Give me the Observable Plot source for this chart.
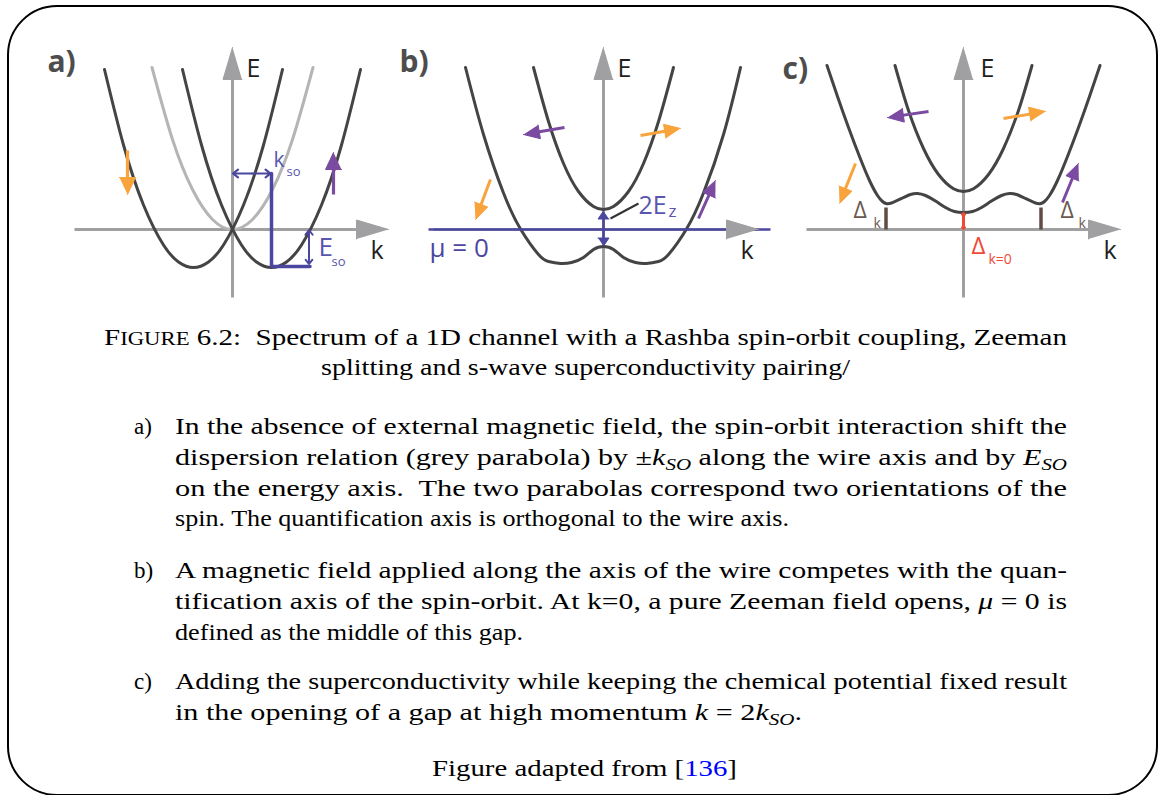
<!DOCTYPE html>
<html><head><meta charset="utf-8">
<script src="https://cdn.jsdelivr.net/npm/d3@7"></script>
<script src="https://cdn.jsdelivr.net/npm/@observablehq/plot@0.6"></script>
<style>
html,body{margin:0;padding:0;background:#fff;}
#page{position:relative;width:1158px;height:795px;overflow:hidden;background:#fff;}
#frame{position:absolute;left:7px;top:5px;width:1151px;height:791px;box-sizing:border-box;border:2.5px solid #000;border-radius:50px;}
#caption{position:absolute;left:0;top:0;}
.panel{position:absolute;width:360px;height:275px;}
</style></head><body>
<div id="page">
<div id="frame"></div>
<svg id="caption" width="1158" height="795"></svg>
<div id="pa" class="panel"></div>
<div id="pb" class="panel"></div>
<div id="pc" class="panel"></div>
</div>
<script>
// ---------- DATA (k and E in schematic units) ----------
// panel a) spin-orbit only
const greyA_k  = [-8.05, -6, -4, -2, 0, 2, 4, 6, 8.05];
const greyA_E  = [16.2, 9, 4, 1, 0, 1, 4, 9, 16.2];
const leftA_k  = [-12.8, -10.9, -8.9, -6.9, -5.4, -3.9, -2.4, -0.9, 1.1, 3.1, 5.0];
const leftA_E  = [16.0, 8.45, 2.45, -1.55, -3.24, -3.8, -3.24, -1.55, 2.45, 8.45, 16.0];
const rightA_k = [-5.0, -3.1, -1.1, 0.9, 2.4, 3.9, 5.4, 6.9, 8.9, 10.9, 12.8];
const rightA_E = [16.0, 8.45, 2.45, -1.55, -3.24, -3.8, -3.24, -1.55, 2.45, 8.45, 16.0];
const kso = 3.9, Eso = 3.7, ksoLevel = 5.6, EsoMark = 7.65;

// panel b) spin-orbit + Zeeman
const upB_k  = [-7.0, -5.5, -4, -2.5, -1, 0, 1, 2.5, 4, 5.5, 7.0];
const upB_E  = [16.2, 10.8, 6.6, 3.8, 2.3, 2.0, 2.3, 3.8, 6.6, 10.8, 16.2];
const lowB_k = [-13.8, -12, -10, -8.3, -6.5, -5.5, -4.3, -3.2, -2, -1, 0, 1, 2, 3.2, 4.3, 5.5, 6.5, 8.3, 10, 12, 13.7];
const lowB_E = [16.2, 9.5, 3.65, 0.05, -2.5, -3.2, -3.4, -3.3, -2.8, -2.0, -1.7, -2.0, -2.8, -3.3, -3.4, -3.2, -2.5, 0.05, 3.65, 9.5, 16.2];
const EzTop = 1.85, EzBottom = -1.65;

// panel c) + superconductivity
const upC_k  = [-6.85, -5.5, -4, -2.5, -1, 0, 1, 2.5, 4, 5.5, 6.85];
const upC_E  = [16.4, 11.9, 8.1, 5.5, 4.07, 3.8, 4.07, 5.5, 8.1, 11.9, 16.4];
const lowC_k = [-13.65, -12.6, -11.5, -10.4, -9.4, -8.6, -8.1, -7.75, -7.2, -6.2, -5.3, -4.6, -3.8, -2.8, -1.8, -0.9, 0,
                0.9, 1.8, 2.8, 3.8, 4.6, 5.3, 6.2, 7.2, 7.75, 8.1, 8.6, 9.4, 10.4, 11.5, 12.6, 13.65];
const lowC_E = [16.4, 13.3, 10.2, 7.3, 4.9, 3.4, 2.8, 2.6, 2.65, 3.1, 3.5, 3.6, 3.4, 2.85, 2.2, 1.8, 1.7,
                1.8, 2.2, 2.85, 3.4, 3.6, 3.5, 3.1, 2.65, 2.6, 2.8, 3.4, 4.9, 7.3, 10.2, 13.3, 16.4];
const deltaK = [-7.75, 7.75], deltaKTop = 2.2, delta0 = 1.7;

// spin arrows [k0, E0, k1, E1] (tail -> tip)
const spinA_orange = [[-10.5, 7.9, -10.5, 3.5]];
const spinA_purple = [[10.1, 3.5, 10.1, 7.7]];
const spinB_orange = [[3.7, 9.4, 7.7, 10.1], [-11.3, 5.0, -12.8, 1.0]];
const spinB_purple = [[-3.9, 10.2, -8.0, 9.5], [9.5, 1.1, 11.2, 4.9]];
const spinC_orange = [[4.0, 11.1, 8.2, 11.8], [-10.8, 6.6, -12.4, 2.6]];
const spinC_purple = [[-3.5, 11.8, -7.6, 11.2], [9.9, 2.7, 11.5, 6.6]];

// axes [k0, E0, k1, E1]
const axesA = [[-15.8, 0, 15.6, 0], [0, -6.8, 0, 18.2]];
const axesB = [[-17.0, 0, 15.5, 0], [0, -6.8, 0, 18.2]];
const axesC = [[-15.7, 0, 15.7, 0], [0, -6.8, 0, 18.2]];
const mu0 = [-17.5, 16.7];

// ---------- STYLE ----------
const SANS = "'Open Sans', 'Noto Sans', sans-serif";
const ORANGE = "#f8a33b", PURPLE = "#7b4aa1", DARK = "#444444", GREY = "#b5b5b5",
      AXIS = "#a0a0a2", BLUE = "#4b479f", LBLUE = "#5a56ad", RED = "#ef4a36", BROWN = "#5f4c44", BROWNT = "#6b5a51";

function tri(x1, y1, x2, y2, len, hw, id) {
  const dx = x2 - x1, dy = y2 - y1, L = Math.hypot(dx, dy), ux = dx / L, uy = dy / L;
  const bx = x2 - ux * len, by = y2 - uy * len;
  return [{x: x2, y: y2, id}, {x: bx - uy * hw, y: by + ux * hw, id}, {x: bx + uy * hw, y: by - ux * hw, id}];
}
function arrowSet(list, color, len, hw, sw) {
  const shafts = [], heads = [];
  list.forEach((a, i) => {
    const [x1, y1, x2, y2] = a;
    const L = Math.hypot(x2 - x1, y2 - y1), ux = (x2 - x1) / L, uy = (y2 - y1) / L;
    shafts.push({x1, y1, x2: x2 - ux * (len - 0.3), y2: y2 - uy * (len - 0.3)});
    heads.push(...tri(x1, y1, x2, y2, len, hw, i));
  });
  return [
    Plot.link(shafts, {x1: "x1", y1: "y1", x2: "x2", y2: "y2", stroke: color, strokeWidth: sw}),
    Plot.line(heads, {x: "x", y: "y", z: "id", fill: color, stroke: color, strokeWidth: 1, strokeLinejoin: "round"})
  ];
}
function curve(ks, Es, color) {
  return Plot.line(ks.map((k, i) => ({k, E: Es[i]})), {x: "k", y: "E", curve: "natural", stroke: color, strokeWidth: 3});
}
function txt(t, k, E, size, color, extra = {}) {
  return Plot.text([t], {x: [k], y: [E], text: [t], textAnchor: "start", lineAnchor: "bottom",
    fontFamily: SANS, fontSize: size, fill: color, ...extra});
}
function panel(id, ox, marks) {
  const chart = Plot.plot({
    width: 360, height: 275, margin: 0,
    x: {domain: [-18, 18], axis: null},
    y: {domain: [-8, 19.5], axis: null},
    style: {background: "transparent", overflow: "visible"},
    marks
  });
  const el = document.getElementById(id);
  el.style.left = (ox - 180) + "px";
  el.style.top = (229 - 195) + "px";
  el.append(chart);
}

// ---------- PANEL a ----------
panel("pa", 232, [
  ...arrowSet(axesA, AXIS, 3.2, 0.95, 3),
  curve(greyA_k, greyA_E, GREY),
  curve(leftA_k, leftA_E, DARK),
  curve(rightA_k, rightA_E, DARK),
  Plot.line([{k: kso, E: ksoLevel}, {k: kso, E: -Eso}, {k: EsoMark + 0.1, E: -Eso}],
    {x: "k", y: "E", stroke: BLUE, strokeWidth: 3.5, strokeLinejoin: "miter"}),
  Plot.arrow([{x1: kso / 2, y1: ksoLevel, x2: 0.05, y2: ksoLevel}, {x1: kso / 2, y1: ksoLevel, x2: kso - 0.1, y2: ksoLevel}],
    {x1: "x1", y1: "y1", x2: "x2", y2: "y2", stroke: BLUE, strokeWidth: 2.2, headLength: 7, headAngle: 75}),
  Plot.arrow([{x1: EsoMark, y1: -Eso / 2, x2: EsoMark, y2: -0.05}, {x1: EsoMark, y1: -Eso / 2, x2: EsoMark, y2: -Eso + 0.25}],
    {x1: "x1", y1: "y1", x2: "x2", y2: "y2", stroke: BLUE, strokeWidth: 2, headLength: 6, headAngle: 75}),
  ...arrowSet(spinA_orange, ORANGE, 1.7, 0.8, 3.2),
  ...arrowSet(spinA_purple, PURPLE, 1.7, 0.8, 3.2),
  txt("a)", -18.5, 15.8, 30, "#4d4d4d", {fontWeight: "bold"}),
  txt("E", 1.4, 15.3, 25, "#231f20"),
  txt("k", 13.8, -2.9, 25, "#231f20"),
  txt("k", 4.1, 6.3, 21, LBLUE),
  txt("so", 5.4, 5.4, 13, LBLUE),
  txt("E", 8.6, -2.6, 26, LBLUE),
  txt("so", 9.9, -3.6, 13, LBLUE)
]);

// ---------- PANEL b ----------
panel("pb", 603, [
  ...arrowSet([axesB[1]], AXIS, 3.2, 0.95, 3),
  Plot.link([{a: 0}], {x1: () => axesB[0][0], x2: () => axesB[0][2], y1: () => 0, y2: () => 0, stroke: AXIS, strokeWidth: 3}),
  curve(upB_k, upB_E, DARK),
  curve(lowB_k, lowB_E, DARK),
  Plot.link([{a: 0}], {x1: () => mu0[0], x2: () => mu0[1], y1: () => 0, y2: () => 0, stroke: BLUE, strokeWidth: 2.6}),
  ...arrowSet([axesB[0]].map(a => [a[2] - 4, 0, a[2], 0]), AXIS, 3.2, 0.95, 0),
  ...arrowSet([[0, 0, 0, EzTop], [0, 0, 0, EzBottom]], BLUE, 0.8, 0.55, 2.6),
  Plot.link([{a: 0}], {x1: () => 0.7, y1: () => 1.1, x2: () => 3.5, y2: () => 2.6, stroke: "#333", strokeWidth: 2}),
  ...arrowSet(spinB_orange, ORANGE, 1.6, 0.7, 3),
  ...arrowSet(spinB_purple, PURPLE, 1.6, 0.7, 3),
  txt("b)", -20.4, 15.8, 30, "#4d4d4d", {fontWeight: "bold"}),
  txt("E", 1.4, 15.3, 25, "#231f20"),
  txt("k", 13.7, -2.9, 25, "#231f20"),
  txt("2E", 3.5, 1.6, 25, LBLUE),
  txt("z", 6.5, 1.3, 17, LBLUE),
  txt("μ = 0", -17.4, -2.7, 26, BLUE)
]);

// ---------- PANEL c ----------
panel("pc", 963, [
  ...arrowSet(axesC, AXIS, 3.2, 0.95, 3),
  curve(upC_k, upC_E, DARK),
  curve(lowC_k, lowC_E, DARK),
  Plot.link(deltaK, {x1: d => d, x2: d => d, y1: () => 0, y2: () => deltaKTop, stroke: BROWN, strokeWidth: 3.5}),
  Plot.link([0], {x1: d => d, x2: d => d, y1: () => 0.1, y2: () => delta0 - 0.1, stroke: RED, strokeWidth: 3}),
  Plot.arrow([{y1: delta0 / 2, y2: 0}, {y1: delta0 / 2, y2: delta0}],
    {x1: () => 0, x2: () => 0, y1: "y1", y2: "y2", stroke: RED, strokeWidth: 1.5, headLength: 4, headAngle: 80}),
  ...arrowSet(spinC_orange, ORANGE, 1.6, 0.7, 3),
  ...arrowSet(spinC_purple, PURPLE, 1.6, 0.7, 3),
  txt("c)", -18.1, 15.1, 30, "#4d4d4d", {fontWeight: "bold"}),
  txt("E", 1.7, 15.3, 25, "#231f20"),
  txt("k", 14.0, -2.9, 25, "#231f20"),
  txt("Δ", -11.0, 1.2, 23, BROWNT),
  txt("k", -9.0, 0.2, 14, BROWNT),
  txt("Δ", 9.7, 1.2, 23, BROWNT),
  txt("k", 11.5, 0.2, 14, BROWNT),
  txt("Δ", 0.8, -2.4, 24, RED),
  txt("k=0", 2.5, -3.4, 14, RED)
]);

// ---------- CAPTION ----------
const SERIF = "'Liberation Serif', 'Times New Roman', serif";
const capLines = [
  {x: 104, y: 345, w: 963, segs: [["F", ""], ["IGURE", "sc"], [" 6.2:  Spectrum of a 1D channel with a Rashba spin-orbit coupling, Zeeman", ""]]},
  {x: 321, y: 375, w: 529, segs: [["splitting and s-wave superconductivity pairing/", ""]]},
  {x: 134, y: 434, segs: [["a)", ""]]},
  {x: 175, y: 434, w: 892, segs: [["In the absence of external magnetic field, the spin-orbit interaction shift the", ""]]},
  {x: 175, y: 465, w: 892, segs: [["dispersion relation (grey parabola) by ±", ""], ["k", "i"], ["SO", "isub"], [" along the wire axis and by ", ""], ["E", "i"], ["SO", "isub"]]},
  {x: 175, y: 496, w: 892, segs: [["on the energy axis.  The two parabolas correspond two orientations of the", ""]]},
  {x: 175, y: 526, w: 614, segs: [["spin. The quantification axis is orthogonal to the wire axis.", ""]]},
  {x: 134, y: 578, segs: [["b)", ""]]},
  {x: 175, y: 578, w: 892, segs: [["A magnetic field applied along the axis of the wire competes with the quan-", ""]]},
  {x: 175, y: 609, w: 892, segs: [["tification axis of the spin-orbit. At k=0, a pure Zeeman field opens, ", ""], ["μ", "i"], [" = 0 is", ""]]},
  {x: 175, y: 640, w: 348, segs: [["defined as the middle of this gap.", ""]]},
  {x: 134, y: 689, segs: [["c)", ""]]},
  {x: 175, y: 689, w: 892, segs: [["Adding the superconductivity while keeping the chemical potential fixed result", ""]]},
  {x: 175, y: 720, w: 627, segs: [["in the opening of a gap at high momentum ", ""], ["k", "i"], [" = 2", ""], ["k", "i"], ["SO", "isub"], [".", ""]]},
  {x: 432, y: 776, w: 305, segs: [["Figure adapted from [", ""], ["136", "blue"], ["]", ""]]}
];
const csvg = d3.select("#caption");
for (const L of capLines) {
  const t = csvg.append("text").attr("x", L.x).attr("y", L.y)
    .attr("font-family", SERIF).attr("font-size", 23).attr("fill", "#000")
    .style("white-space", "pre");
  if (L.w) t.attr("textLength", L.w).attr("lengthAdjust", "spacingAndGlyphs");
  let shifted = false;
  for (const [s, st] of L.segs) {
    const ts = t.append("tspan").text(s);
    if (st.includes("i")) ts.attr("font-style", "italic");
    if (st === "sc") ts.attr("font-size", 18);
    if (st.includes("sub")) { ts.attr("font-size", 16).attr("dy", 5); shifted = true; }
    else if (shifted) { ts.attr("dy", -5); shifted = false; }
    if (st === "blue") ts.attr("fill", "#0000ff");
  }
}
</script>
</body></html>
